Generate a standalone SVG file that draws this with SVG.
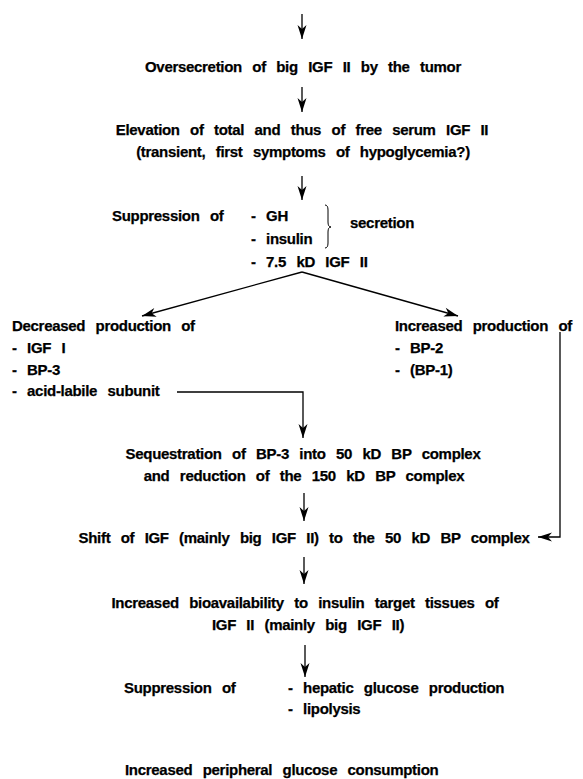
<svg xmlns="http://www.w3.org/2000/svg" width="583" height="779" viewBox="0 0 583 779">
<defs>
<style>
text{font-family:"Liberation Sans",Arial,Helvetica,sans-serif;font-weight:bold;font-size:15px;fill:#000;stroke:#000;stroke-width:0.25;letter-spacing:-0.3px;word-spacing:6.5px}
.c{text-anchor:middle}
.ln{fill:none;stroke:#000;stroke-width:1.3}
.br{fill:none;stroke:#000;stroke-width:1}
</style>
<marker id="ah" viewBox="-15 -5 16 10" refX="0" refY="0" markerWidth="16" markerHeight="10" markerUnits="userSpaceOnUse" orient="auto">
<path d="M0,0 L-14,-4.5 L-10,0 L-14,4.5 Z" fill="#000"/>
</marker>
</defs>
<rect width="583" height="779" fill="#fff"/>
<g id="connectors">
<line class="ln" x1="302" y1="14" x2="302" y2="39" marker-end="url(#ah)"/>
<line class="ln" x1="302" y1="87" x2="302" y2="112" marker-end="url(#ah)"/>
<line class="ln" x1="302" y1="176" x2="302" y2="200" marker-end="url(#ah)"/>
<line class="ln" x1="302" y1="272" x2="142" y2="316" marker-end="url(#ah)"/>
<line class="ln" x1="302" y1="272" x2="458" y2="316" marker-end="url(#ah)"/>
<path class="ln" d="M177,392 H303 V438" marker-end="url(#ah)"/>
<path class="ln" d="M560,332 V537 H538" marker-end="url(#ah)"/>
<line class="ln" x1="304" y1="493" x2="304" y2="521" marker-end="url(#ah)"/>
<line class="ln" x1="304" y1="557" x2="304" y2="584" marker-end="url(#ah)"/>
<line class="ln" x1="305" y1="645" x2="305" y2="677" marker-end="url(#ah)"/>
</g>
<g id="n1"><text class="c" x="303" y="72">Oversecretion of big IGF II by the tumor</text></g>
<g id="n2"><text class="c" x="302" y="135">Elevation of total and thus of free serum IGF II</text><text class="c" x="303" y="157">(transient, first symptoms of hypoglycemia?)</text></g>
<g id="n3">
<text x="112" y="221">Suppression of</text>
<text x="251" y="221">- GH</text>
<text x="251" y="244">- insulin</text>
<text x="251" y="267">- 7.5 kD IGF II</text>
<path class="br" d="M325,205 Q328,205 328,210 L328,222 Q328,227 331,227 Q328,227 328,232 L328,243 Q328,248 325,248"/>
<text x="350" y="228">secretion</text>
</g>
<g id="n4">
<text x="12" y="331">Decreased production of</text>
<text x="12" y="353">- IGF I</text>
<text x="12" y="375">- BP-3</text>
<text x="12" y="396">- acid-labile subunit</text>
</g>
<g id="n5">
<text x="395" y="331">Increased production of</text>
<text x="395" y="353">- BP-2</text>
<text x="395" y="375">- (BP-1)</text>
</g>
<g id="n6"><text class="c" x="303" y="459">Sequestration of BP-3 into 50 kD BP complex</text><text class="c" x="304" y="481">and reduction of the 150 kD BP complex</text></g>
<g id="n7"><text class="c" x="304" y="543">Shift of IGF (mainly big IGF II) to the 50 kD BP complex</text></g>
<g id="n8"><text class="c" x="305" y="608">Increased bioavailability to insulin target tissues of</text><text class="c" x="308" y="630">IGF II (mainly big IGF II)</text></g>
<g id="n9">
<text x="124" y="693">Suppression of</text>
<text x="288" y="693">- hepatic glucose production</text>
<text x="288" y="714">- lipolysis</text>
</g>
<g id="n10"><text x="125" y="775">Increased peripheral glucose consumption</text></g>
</svg>
